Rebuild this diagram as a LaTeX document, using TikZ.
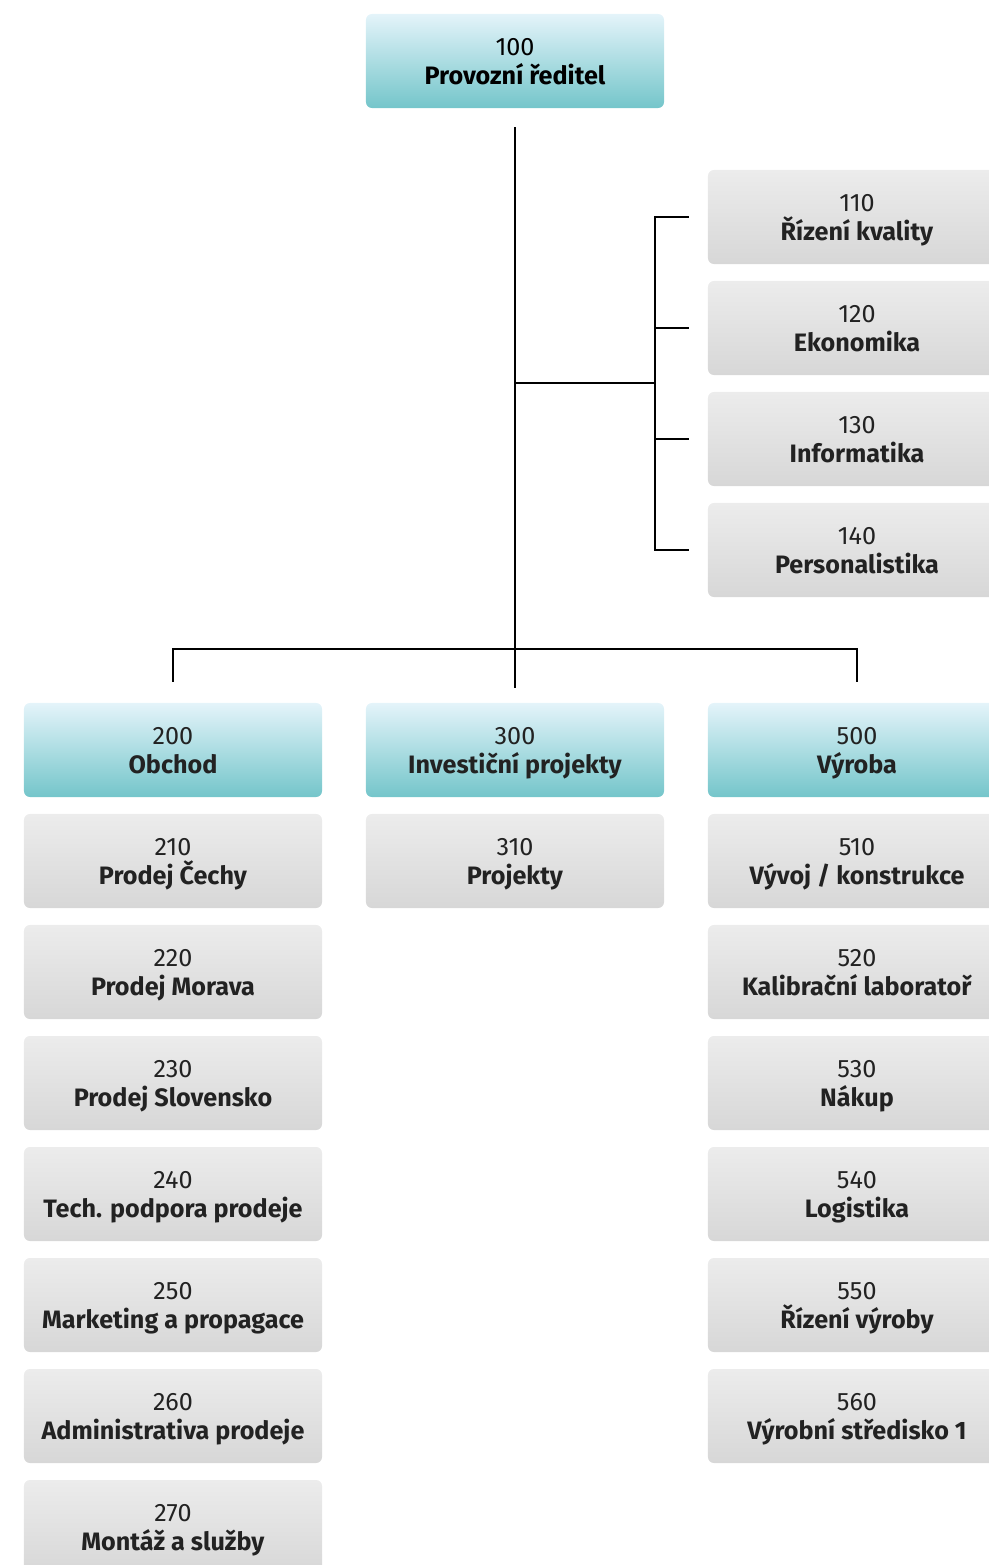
\documentclass[tikz,border=0pt]{standalone}
\usepackage{fontspec}
\setmainfont{Fira Sans}
\usepackage{xcolor}
\usetikzlibrary{positioning}
\usetikzlibrary{calc}

\definecolor{tealtop}{HTML}{E4F4FA}
\definecolor{tealbot}{HTML}{74C5CA}
\definecolor{graytop}{HTML}{ECECEC}
\definecolor{graybot}{HTML}{D7D7D7}
\definecolor{txtgray}{HTML}{222222}
\newcommand{\dept}[2]{#1\\\textbf{#2}}

\begin{document}
\begin{tikzpicture}[x=0.025cm,y=-0.025cm,
  unitbox/.style={rounded corners=0.15cm,minimum width=7.45cm,minimum height=2.35cm,
    align=center,text=txtgray,font={\fontsize{17.9pt}{20.6pt}\selectfont},text depth=0pt},
  headbox/.style={unitbox,top color=tealtop,bottom color=tealbot},
  subbox/.style={unitbox,top color=graytop,bottom color=graybot},
  link/.style={line width=0.05cm,color=black}]
\useasboundingbox (0,0) rectangle (988,1565);

\coordinate (brk) at (655,383);
\coordinate (bus) at (515,649);

  \node (p100) at (515,61) [headbox,text=black] {\dept{100}{Provozní ředitel}};

  \node (p110) at (857,217) [subbox] {\dept{110}{Řízení kvality}};
  \node (p120) at (857,328) [subbox] {\dept{120}{Ekonomika}};
  \node (p130) at (857,439) [subbox] {\dept{130}{Informatika}};
  \node (p140) at (857,550) [subbox] {\dept{140}{Personalistika}};

  \node (p200) at (173,750) [headbox] {\dept{200}{Obchod}};
  \node (p300) at (515,750) [headbox] {\dept{300}{Investiční projekty}};
  \node (p500) at (857,750) [headbox] {\dept{500}{Výroba}};

  \node (p210) at (173,861) [subbox] {\dept{210}{Prodej Čechy}};
  \node (p220) at (173,972) [subbox] {\dept{220}{Prodej Morava}};
  \node (p230) at (173,1083) [subbox] {\dept{230}{Prodej Slovensko}};
  \node (p240) at (173,1194) [subbox] {\dept{240}{Tech. podpora prodeje}};
  \node (p250) at (173,1305) [subbox] {\dept{250}{Marketing a propagace}};
  \node (p260) at (173,1416) [subbox] {\dept{260}{Administrativa prodeje}};
  \node (p270) at (173,1527) [subbox] {\dept{270}{Montáž a služby}};

  \node (p310) at (515,861) [subbox] {\dept{310}{Projekty}};

  \node (p510) at (857,861) [subbox] {\dept{510}{Vývoj / konstrukce}};
  \node (p520) at (857,972) [subbox] {\dept{520}{Kalibrační laboratoř}};
  \node (p530) at (857,1083) [subbox] {\dept{530}{Nákup}};
  \node (p540) at (857,1194) [subbox] {\dept{540}{Logistika}};
  \node (p550) at (857,1305) [subbox] {\dept{550}{Řízení výroby}};
  \node (p560) at (857,1416) [subbox] {\dept{560}{Výrobní středisko 1}};

  % trunk
  \draw[link,shorten <=0.475cm,shorten >=0.375cm] (p100.south) to[] (p300.north);
  \draw[link] (p100.south |- brk) to[] (brk);
  % staff units on the right
  \foreach \u in {110,120,130,140}
    \draw[link,shorten <=0.475cm] (p\u.west) -| (brk);
  % line units
  \draw[link,shorten <=0.525cm,shorten >=0.525cm] (p200.north) |- (bus) -| (p500.north);
\end{tikzpicture}
\end{document}
